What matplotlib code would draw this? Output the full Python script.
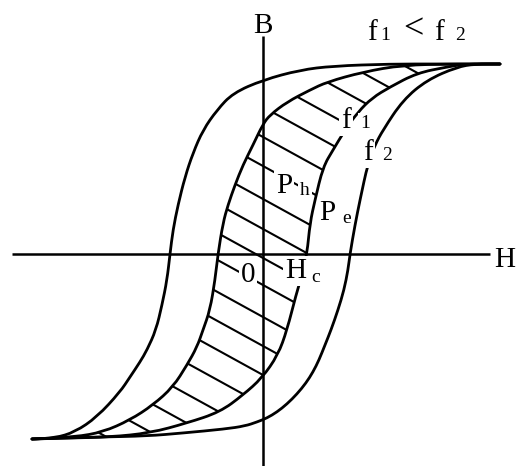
import numpy as np
import matplotlib
matplotlib.use('Agg')
import matplotlib.pyplot as plt
from matplotlib.patches import PathPatch
from matplotlib.path import Path

# hysteresis loops (H to the right, B upwards, origin at the axes crossing)
# f2 loop (outer, no hatching)
f2_down_H = [237, 177, 127, 70, 37, 0, -30, -46, -60, -70, -78, -85, -90, -93, -96,
             -101, -107, -116, -123, -133, -143, -166, -188, -208, -231]
f2_down_B = [190, 190, 190, 188, 184, 174, 161, 144, 124, 101, 77, 49, 24, 0, -26,
             -51, -76, -96, -108, -123, -138, -163, -178, -184, -185]
f2_up_H = [-231, -200, -163, -116, -80, -38, -18, -6, 4, 14, 24, 34, 43, 50, 56, 62, 68, 75,
           81, 85, 87, 92, 97, 105, 112, 120, 140, 164, 194, 212, 237]
f2_up_B = [-185, -184, -183, -182, -179, -175, -172, -168, -164, -158, -150, -140, -129, -118,
           -106, -91, -76, -56, -36, -16, 0, 29, 54, 91, 109, 124, 154, 174, 187, 190, 190]

# f1 loop (inner, hatched)
f1_down_H = [237, 190, 140, 100, 64, 47, 24, 7, 0, -10, -20, -28, -35, -40, -45, -48, -53,
             -60, -66, -76, -90, -110, -133, -160, -188, -231]
f1_down_B = [190, 190, 189, 182, 172, 164, 152, 139, 130, 109, 89, 69, 49, 31, 0, -26, -56,
             -76, -93, -111, -133, -151, -166, -178, -183, -185]
f1_up_H = [-231, -193, -153, -113, -76, -43, -20, -1, 15, 24, 33, 39, 44, 47,
           52, 60, 70, 82, 95, 109, 127, 154, 184, 202, 237]
f1_up_B = [-185, -184, -183, -179, -169, -158, -141, -124, -101, -76, -41, -21, 0, 31,
           54, 87, 104, 124, 142, 156, 167, 181, 187, 190, 190]

# hatch lines: where each crosses the B axis, and their slope
hatch_B0 = [266, 236, 207, 176, 147, 117, 88, 55, 25, -4, -31, -63, -92, -121,
            -151, -182, -211, -240, -269]
hatch_slope = -0.55

serif = 'Liberation Serif'
big = 21
small = 14


def smooth(H, B, close=False):
    # chain of quadratic beziers through the midpoints of the read points
    pts = np.column_stack([H, B]).astype(float)
    verts = [pts[0]]
    codes = [Path.MOVETO]
    for i in range(1, len(pts) - 1):
        verts += [pts[i], (pts[i] + pts[i + 1]) / 2]
        codes += [Path.CURVE3, Path.CURVE3]
    verts.append(pts[-1])
    codes.append(Path.LINETO)
    if close:
        verts.append(pts[0])
        codes.append(Path.CLOSEPOLY)
    return Path(verts, codes)


fig = plt.figure(figsize=(5.17, 4.66), dpi=100)
ax = fig.add_axes([0, 0, 1, 1])
ax.set_xlim(-263, 254)
ax.set_ylim(-212, 254)
ax.axis('off')

# axes
ax.plot([-251, 227], [0, 0], color='black', lw=1.8, zorder=6, solid_capstyle='butt')
ax.plot([0, 0], [218, -212], color='black', lw=1.8, zorder=6, solid_capstyle='butt')

# curves
lw = 2.0
for H, B in [(f2_down_H, f2_down_B), (f2_up_H, f2_up_B),
             (f1_down_H, f1_down_B), (f1_up_H, f1_up_B)]:
    ax.add_patch(PathPatch(smooth(H, B), fill=False, lw=lw, edgecolor='black',
                           zorder=3, capstyle='round', joinstyle='round'))

# hatching inside the f1 loop
loop = PathPatch(smooth(f1_down_H + f1_up_H[1:], f1_down_B + f1_up_B[1:], close=True),
                 fill=False, lw=0)
ax.add_patch(loop)
hx = np.array([-263, 254])
for b0 in hatch_B0:
    ln, = ax.plot(hx, b0 + hatch_slope * hx, color='black', lw=1.5, zorder=2)
    ln.set_clip_path(loop)

box = dict(facecolor='white', edgecolor='none', pad=1.5)


def label(x, y, s, size, bg=True):
    ax.text(x, y, s, fontsize=size, family=serif, ha='center', va='baseline',
            zorder=5, bbox=box if bg else None)


# axis names
label(0, 221, 'B', big, bg=False)
label(242, -13, 'H', big, bg=False)

# f1 < f2
label(109, 214, 'f', big, bg=False)
label(122, 214, '1', small, bg=False)
label(150, 216, '<', 26, bg=False)
label(176, 214, 'f', big, bg=False)
label(197, 214, '2', small, bg=False)

# curve names
label(83, 126, 'f', big)
label(102, 126, '1', small)
label(105, 94, 'f', big)
label(124, 94, '2', small)

# loss areas
label(21, 61, 'P', big)
label(42, 59, 'h', small)
label(64, 34, 'P', big)
label(84, 31, 'e', small)

# origin and coercive force
label(-15, -28, '0', big)
label(33, -24, 'H', big)
label(53, -28, 'c', small)

fig.savefig('out.png', dpi=100)
